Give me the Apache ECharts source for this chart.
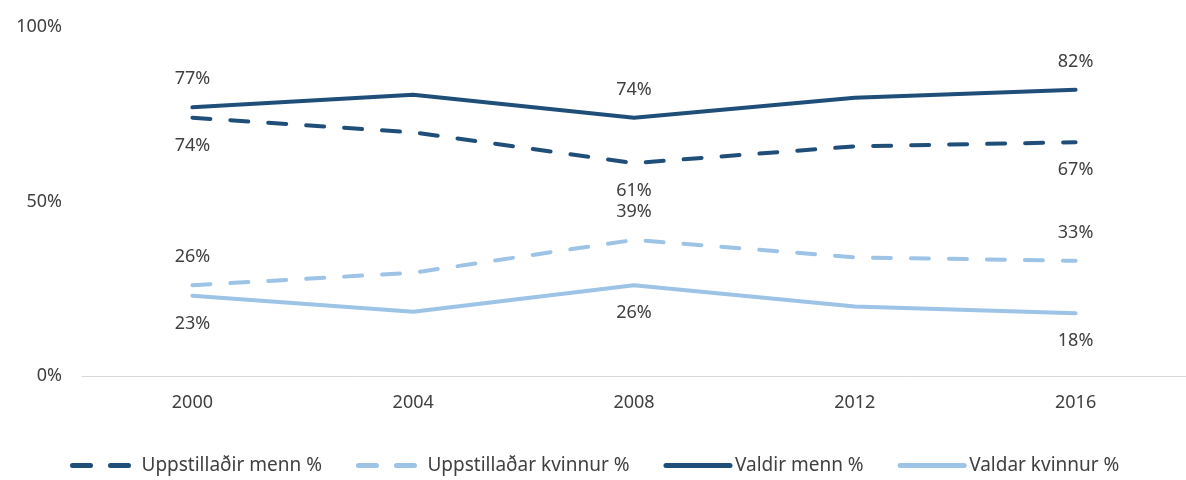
<!DOCTYPE html>
<html lang="is">
<head>
    <meta charset="UTF-8"/>
    <script src="https://cdn.jsdelivr.net/npm/echarts@6/dist/echarts.min.js"></script>
    <title>Frambjóðendur og kjörnir fulltrúar</title>
    <style>
        html, body { margin: 0; padding: 0; background: #fff; }
    </style>
</head>
<body>
<div id="main" style="width:1186px;height:480px;"></div>
<script type="text/javascript">
    // gögn lesin af myndinni (%)
    var years = ['2000', '2004', '2008', '2012', '2016'];
    var uppstMenn = [74, 69.8, 61, 65.8, 67];
    var uppstKvinnur = [26, 29.6, 39, 34, 33];
    var valdirMenn = [77, 80.6, 74, 79.7, 82];
    var valdarKvinnur = [23, 18.4, 26, 19.9, 18];
    // merkingar aðeins við þessi ár
    var labelIdx = [0, 2, 4];

    var dark = '#1f4e79';
    var light = '#9dc3e6';
    var font = '"Noto Sans", sans-serif';

    var myChart = echarts.init(document.getElementById('main'));

    function lbl(pos) {
        return {
            show: true,
            position: pos,
            distance: 19,
            color: '#404040',
            fontSize: 18,
            fontFamily: font,
            formatter: function (p) {
                return labelIdx.indexOf(p.dataIndex) >= 0 ? Math.round(p.value) + '%' : '';
            }
        };
    }

    function line(name, data, color, dashed, pos) {
        return {
            name: name,
            type: 'line',
            data: data,
            symbol: 'circle',
            symbolSize: 0,
            showSymbol: true,
            color: color,
            lineStyle: {
                color: color,
                width: 4,
                type: dashed ? [18, 20] : 'solid',
                cap: 'round'
            },
            label: lbl(pos),
            animation: false
        };
    }

    var option = {
        backgroundColor: '#ffffff',
        grid: {left: 82, width: 1111, top: 27, bottom: 104},
        legend: {
            left: 70,
            top: 456,
            padding: 0,
            itemWidth: 64,
            itemHeight: 22,
            itemGap: 34,
            itemStyle: {opacity: 0},
            lineStyle: {width: 5},
            textStyle: {color: '#404040', fontSize: 19, fontFamily: font},
            data: ['Uppstillaðir menn %', 'Uppstillaðar kvinnur %', 'Valdir menn %', 'Valdar kvinnur %']
        },
        xAxis: {
            type: 'category',
            data: years,
            boundaryGap: true,
            axisLine: {lineStyle: {color: '#d9d9d9', width: 1}},
            axisTick: {show: false},
            axisLabel: {color: '#404040', fontSize: 18, fontFamily: font, margin: 18}
        },
        yAxis: {
            type: 'value',
            min: 0,
            max: 100,
            interval: 50,
            splitLine: {show: false},
            axisLine: {show: false},
            axisTick: {show: false},
            axisLabel: {color: '#404040', fontSize: 18, fontFamily: font, margin: 20, formatter: '{value}%'}
        },
        series: [
            line('Uppstillaðir menn %', uppstMenn, dark, true, 'bottom'),
            line('Uppstillaðar kvinnur %', uppstKvinnur, light, true, 'top'),
            line('Valdir menn %', valdirMenn, dark, false, 'top'),
            line('Valdar kvinnur %', valdarKvinnur, light, false, 'bottom')
        ]
    };

    myChart.setOption(option);
</script>
</body>
</html>
